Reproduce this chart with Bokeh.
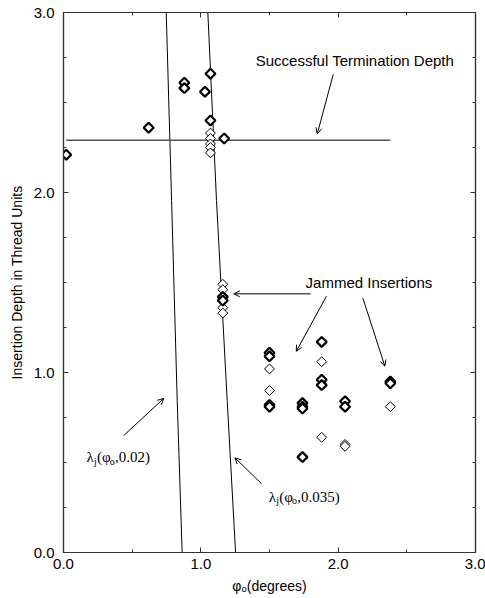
import numpy as np
from bokeh.plotting import figure
from bokeh.models import (Range1d, LinearAxis, FixedTicker, PrintfTickFormatter,
                          CustomJSTickFormatter, Label, Arrow, OpenHead)
from bokeh.embed import file_html
from bokeh.resources import INLINE

# ---------------- data ----------------
# single insertions (thin diamonds)
phi_single = [1.07, 1.07, 1.07, 1.07, 1.07, 1.16, 1.16, 1.16, 1.16,
              1.50, 1.50, 1.88, 1.88, 2.05, 2.05, 2.38]
depth_single = [2.33, 2.30, 2.27, 2.25, 2.22, 1.49, 1.46, 1.36, 1.33,
                1.02, 0.90, 1.06, 0.64, 0.60, 0.59, 0.81]
# repeated insertions (bold diamonds)
phi_repeat = [0.02, 0.62, 0.88, 0.88, 1.03, 1.07, 1.07, 1.17, 1.16, 1.16,
              1.50, 1.50, 1.50, 1.50, 1.74, 1.74, 1.74, 1.74,
              1.88, 1.88, 1.88, 2.05, 2.05, 2.38, 2.38]
depth_repeat = [2.21, 2.36, 2.61, 2.58, 2.56, 2.66, 2.40, 2.30, 1.42, 1.40,
                1.11, 1.09, 0.82, 0.81, 0.83, 0.81, 0.80, 0.53,
                1.17, 0.96, 0.93, 0.84, 0.81, 0.95, 0.94]
# jamming curves lambda_j(phi_o, mu)
lambda_depth = [3.0, 1.956, 0.844, 0.0]
lambda_phi_002 = [0.748, 0.787, 0.828, 0.864]
lambda_phi_0035 = [1.051, 1.114, 1.192, 1.253]
# successful termination depth
termination_depth = 2.29
termination_phi = [0.02, 2.38]

x_major = [0, 1, 2, 3]
x_minor = [0.5, 1.5, 2.5]
y_major = [0, 1, 2, 3]
y_minor = [0.25, 0.5, 0.75, 1.25, 1.5, 1.75, 2.25, 2.5, 2.75]

SANS = "Liberation Sans"
SERIF = "Liberation Serif"
AX = "#333333"

p = figure(frame_width=412, frame_height=540,
           x_range=Range1d(0, 3), y_range=Range1d(0, 3),
           output_backend="svg", toolbar_location=None,
           min_border_left=63, min_border_right=10,
           min_border_top=12, min_border_bottom=46,
           background_fill_color="white", border_fill_color="white")
p.grid.visible = False
p.outline_line_color = AX
p.outline_line_width = 1.2

def style_axis(ax, labels=True):
    ax.axis_line_color = AX
    ax.axis_line_width = 1.2
    ax.major_tick_line_color = AX
    ax.minor_tick_line_color = AX
    ax.major_tick_in = 5
    ax.major_tick_out = 0
    ax.minor_tick_in = 3
    ax.minor_tick_out = 0
    if labels:
        ax.major_label_text_font = SANS
        ax.major_label_text_font_size = "15px"
        ax.major_label_text_color = "black"
        ax.formatter = PrintfTickFormatter(format="%.1f")
    else:
        ax.formatter = CustomJSTickFormatter(code="return ''")
        ax.major_label_text_font_size = "0px"
        ax.major_label_standoff = 0

xa = p.xaxis[0]
ya = p.yaxis[0]
xa.ticker = FixedTicker(ticks=x_major, minor_ticks=x_minor)
ya.ticker = FixedTicker(ticks=y_major, minor_ticks=y_minor)
style_axis(xa)
style_axis(ya)
xa.major_label_standoff = 6
ya.major_label_standoff = 9

xa.axis_label = "\u03c6\u2092(degrees)"
xa.axis_label_text_font = SANS
xa.axis_label_text_font_size = "14px"
xa.axis_label_text_font_style = "normal"
xa.axis_label_text_color = "black"
xa.axis_label_standoff = 6

ya.axis_label = "Insertion Depth in Thread Units"
ya.axis_label_text_font = SANS
ya.axis_label_text_font_size = "14px"
ya.axis_label_text_font_style = "normal"
ya.axis_label_text_color = "black"
ya.axis_label_standoff = 6

top = LinearAxis(ticker=FixedTicker(ticks=x_major, minor_ticks=x_minor))
right = LinearAxis(ticker=FixedTicker(ticks=y_major, minor_ticks=y_minor))
style_axis(top, labels=False)
style_axis(right, labels=False)
p.add_layout(top, "above")
p.add_layout(right, "right")

# lines
p.line(lambda_phi_002, lambda_depth, line_color="black", line_width=1)
p.line(lambda_phi_0035, lambda_depth, line_color="black", line_width=1)
p.line(termination_phi, [termination_depth] * len(termination_phi),
       line_color="#555555", line_width=1.4)

# points
p.scatter(phi_single, depth_single, marker="square", angle=np.pi / 4, size=7,
          fill_color="white", line_color="black", line_width=1)
p.scatter(phi_repeat, depth_repeat, marker="square", angle=np.pi / 4, size=7,
          fill_color="white", line_color="black", line_width=2.2)

# annotations
def label(x, y, text, font=SANS, size=15, align="left", baseline="middle", xo=0, yo=0):
    p.add_layout(Label(x=x, y=y, text=text, text_font=font, text_font_size=f"{size}px",
                       text_align=align, text_baseline=baseline, text_color="black",
                       x_offset=xo, y_offset=yo))

def arrow(x0, y0, x1, y1):
    p.add_layout(Arrow(x_start=x0, y_start=y0, x_end=x1, y_end=y1,
                       line_color="black", line_width=1,
                       end=OpenHead(size=6, line_width=1, line_color="black")))

label(2.122, 2.733, "Successful Termination Depth", align="center")
arrow(1.964, 2.656, 1.848, 2.326)

label(2.224, 1.502, "Jammed Insertions", align="center")
arrow(1.799, 1.437, 1.240, 1.437)
arrow(1.915, 1.424, 1.695, 1.118)
arrow(2.180, 1.413, 2.340, 1.035)

def lam_label(x, y, mu):
    b = "alphabetic"
    label(x, y, "\u03bb", font=SERIF, size=15, baseline=b)
    label(x, y, "j", font=SERIF, size=10, baseline=b, xo=7.5, yo=-4)
    label(x, y, "(\u03c6", font=SERIF, size=15, baseline=b, xo=10.5)
    label(x, y, "o", font=SERIF, size=10, baseline=b, xo=23.3, yo=-4)
    label(x, y, "," + mu + ")", font=SERIF, size=15, baseline=b, xo=28.5)

lam_label(0.168, 0.528, "0.02")
arrow(0.439, 0.650, 0.730, 0.856)
lam_label(1.495, 0.310, "0.035")
arrow(1.442, 0.382, 1.248, 0.526)

open("out.html", "w").write(file_html(p, INLINE))
